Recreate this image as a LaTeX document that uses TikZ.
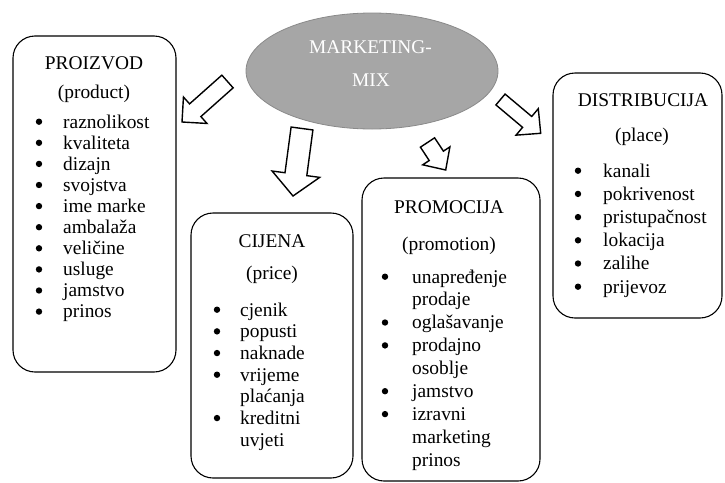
\documentclass[tikz,border=0pt]{standalone}
\usepackage{fontspec}
\setmainfont{Liberation Serif}
\usetikzlibrary{calc,shapes.geometric}
\definecolor{ellfill}{HTML}{A6A6A6}
\definecolor{elldraw}{HTML}{8A8A8A}
\tikzset{
  box/.style={draw, rounded corners=22pt, line width=1.1pt, inner sep=0},
  ttl/.style={anchor=base, inner sep=0},
  itm/.style={anchor=base west, inner sep=0},
  bul/.style={circle, fill=black, inner sep=0, minimum size=6.4pt},
  barrow/.style={draw, fill=white, line width=1.4pt, line join=miter},
  mix/.style={ellipse, draw=elldraw, fill=ellfill, line width=0.8pt, inner sep=0},
}
\newcommand\blockarr[5]{%
  \path coordinate (hb) at ($(#2)!#5!(#1)$);
  \draw[barrow] ($(#1)!#3!90:(#2)$) -- ($(hb)!#3!90:(#2)$) -- ($(hb)!#4!90:(#2)$)
    -- (#2) -- ($(hb)!#4!-90:(#2)$) -- ($(hb)!#3!-90:(#2)$) -- ($(#1)!#3!-90:(#2)$) -- cycle;
}
\begin{document}
\begin{tikzpicture}[x=1pt,y=-1pt,font=\fontsize{19.4}{21}\selectfont]
\useasboundingbox (0,0) rectangle (725,482);

% central ellipse
\node[mix, minimum width=252pt, minimum height=116pt] (mm) at (372,71) {};
\node[ttl, text=white] (mm1) at (370.5,53) {MARKETING-};
\node[ttl, text=white] (mm2) at (371,86) {MIX};

% boxes
\node[box, minimum width=163pt, minimum height=336pt] (prod) at (94.5,204) {};
\node[box, minimum width=162pt, minimum height=265pt] (price) at (272,345.5) {};
\node[box, minimum width=178pt, minimum height=303pt] (promo) at (451,329.5) {};
\node[box, minimum width=169pt, minimum height=245pt] (place) at (637.5,195.5) {};

% block arrows
\coordinate (a1t) at (227.5,81.5); \coordinate (a1h) at (182,122);
\coordinate (a2t) at (302,128.5);  \coordinate (a2h) at (293,196);
\coordinate (a3t) at (427.5,142.5);\coordinate (a3h) at (445.7,170);
\coordinate (a4t) at (500.5,99.5); \coordinate (a4h) at (540.7,133.3);
\blockarr{a1t}{a1h}{8.5pt}{17.7pt}{17.7pt}
\blockarr{a2t}{a2h}{11pt}{24pt}{22pt}
\blockarr{a3t}{a3h}{8.5pt}{16.3pt}{17pt}
\blockarr{a4t}{a4h}{7.1pt}{17.3pt}{17.7pt}

% PROIZVOD
\node[ttl] (p1) at (94,69) {PROIZVOD};
\node[ttl] (p2) at (94,98) {(product)};
\foreach \t [count=\i from 0] in {raznolikost,kvaliteta,dizajn,svojstva,ime marke,ambalaža,veličine,usluge,jamstvo,prinos}{
  \node[bul] (pb\i) at (39,128-6.3+21.1*\i) {};
  \node[itm] (pi\i) at (63,128+21.1*\i) {\t};
}

% CIJENA
\node[ttl] (c1) at (272,247) {CIJENA};
\node[ttl] (c2) at (272,279) {(price)};
\foreach \t/\b [count=\i from 0] in {cjenik/1,popusti/1,naknade/1,vrijeme/1,plaćanja/0,kreditni/1,uvjeti/0}{
  \ifnum\b=1 \node[bul] (cb\i) at (217,316-6.3+21.67*\i) {};\fi
  \node[itm] (ci\i) at (240,316+21.67*\i) {\t};
}

% PROMOCIJA
\node[ttl] (m1) at (449,213) {PROMOCIJA};
\node[ttl] (m2) at (449,250) {(promotion)};
\foreach \t/\b [count=\i from 0] in {unapređenje/1,prodaje/0,oglašavanje/1,prodajno/1,osoblje/0,jamstvo/1,izravni/1,marketing/0,prinos/0}{
  \ifnum\b=1 \node[bul] (mb\i) at (385,283-6.3+22.9*\i) {};\fi
  \node[itm] (mi\i) at (412,283+22.9*\i) {\t};
}

% DISTRIBUCIJA
\node[ttl] (d1) at (643,106) {DISTRIBUCIJA};
\node[ttl] (d2) at (642,141) {(place)};
\foreach \t [count=\i from 0] in {kanali,pokrivenost,pristupačnost,lokacija,zalihe,prijevoz}{
  \node[bul] (db\i) at (578,177-6.3+23.2*\i) {};
  \node[itm] (di\i) at (603,177+23.2*\i) {\t};
}
\end{tikzpicture}
\end{document}
